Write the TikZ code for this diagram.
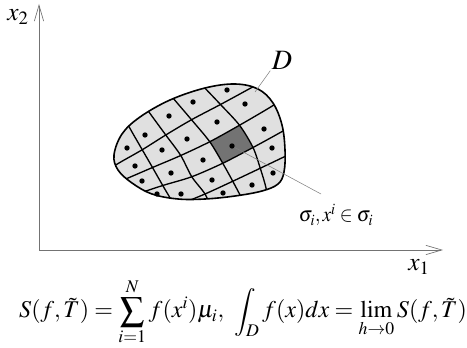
\documentclass[tikz,border=0pt]{standalone}
\usepackage{mathptmx}
\usepackage{graphicx}
\usepackage{tikz}
\usetikzlibrary{arrows.meta,positioning,calc}

% outline of the domain D
\def\regionpath{plot[smooth cycle, tension=0.6] coordinates {(114,155) (122,134) (140,117) (170,100) (205,88) (235,84) (258,89) (273,103) (282,125) (285,150) (284,172) (278,184) (262,191) (235,196) (205,199) (178,199) (152,194) (132,183) (118,170)}}

\begin{document}
\begin{tikzpicture}[x=0.75pt,y=-0.75pt,
  axis/.style={draw=black!55, line width=0.7pt},
  axarr/.style={-{Straight Barb[length=12pt,width=7pt,line width=0.5pt]}},
  region/.style={draw=black, line width=1.2pt},
  gridline/.style={draw=black, line width=1pt},
  cellmark/.style={circle, fill=black, inner sep=0pt, minimum size=4pt},
  leader/.style={draw=black!50, line width=0.4pt},
  lbl/.style={font=\fontsize{19}{22}\selectfont, inner sep=1pt},
]
\useasboundingbox (0,0) rectangle (467,348);

% axes
\coordinate (O) at (39,250);
\coordinate (x1tip) at (443,250);
\coordinate (x2tip) at (39,4);
\draw[axis, axarr] (O) -- (x1tip);
\draw[axis, axarr] (O) -- (x2tip);
\node[lbl] (x1lab) at (419,267) {$x_1$};
\node[lbl] (x2lab) at (18,17) {$x_2$};

% domain with its partition
\fill[black!12] \regionpath;
\fill[black!55] (209.75,141.75) -- (239.5,125.25) -- (253,147.5) -- (222.75,163.25) -- cycle;
\begin{scope}
  \clip \regionpath;
  % rows
  \draw[gridline] plot[smooth] coordinates {(96,177) (119,163) (142.25,149.75) (165.75,135) (191.5,119.75) (220.5,104.5) (249,89) (278,73)};
  \draw[gridline] plot[smooth] coordinates {(96,191) (124.5,179.5) (152.5,167.5) (180.75,155.5) (209.75,141.75) (239.5,125.25) (269,108) (298,90)};
  \draw[gridline] plot[smooth] coordinates {(105,204) (134,195) (162.75,185.5) (191.75,176.75) (222.75,163.25) (253,147.5) (283,131) (312,114)};
  \draw[gridline] plot[smooth] coordinates {(150,216) (178,205) (205,194) (232.75,181.25) (260.25,168.25) (288,155) (315,142)};
  % columns
  \draw[gridline] plot[smooth] coordinates {(122,114) (132,132) (142.25,149.75) (152.5,167.5) (162.75,185.5) (173,203) (180,216)};
  \draw[gridline] plot[smooth] coordinates {(136,94) (150.75,114.5) (165.75,135) (180.75,155.5) (191.75,176.75) (205,194) (212,210)};
  \draw[gridline] plot[smooth] coordinates {(155,76) (173,98) (191.5,119.75) (209.75,141.75) (222.75,163.25) (232.75,181.25) (242,199) (246,210)};
  \draw[gridline] plot[smooth] coordinates {(182,64) (201,84) (220.5,104.5) (239.5,125.25) (253,147.5) (260.25,168.25) (266,188) (268,205)};
\end{scope}
\draw[region] \regionpath;

% points x^i
\foreach \p [count=\k] in {(127,148),(145,135),(169,116),(193,102),(227,90),
  (135,166),(162,150),(187,139),(217,122),(245,104),
  (142,181),(171,173),(203,160),(264,129),
  (157,194),(181,194),(212,180),(272,148),
  (223,193),(252,185),(273,173)}
  \node[cellmark] (pt\k) at \p {};
\node[cellmark] (ptdark) at (232,146) {};

% labels
\node[lbl, font=\fontsize{21}{24}\selectfont] (Dlab) at (282,60) {$D$};
\coordinate (Dfoot) at (255,92);
\draw[leader] (Dfoot) -- (Dlab.south west);
\node[lbl, font=\fontsize{16}{19}\selectfont] (siglab) at (336,215) {\scalebox{0.9}[1]{$\sigma_i, x^i\in\sigma_i$}};
\coordinate (sigfoot) at (321,194);
\draw[leader] (ptdark) -- (sigfoot);

\node[lbl, anchor=base, font=\fontsize{18}{21}\selectfont] (sumdef) at (243,318) {$\displaystyle S(f,\tilde{T})=\sum_{i=1}^{N} f(x^i)\mu_i,\ \int_D f(x)dx=\lim_{h\to0}S(f,\tilde{T})$};

\end{tikzpicture}
\end{document}
